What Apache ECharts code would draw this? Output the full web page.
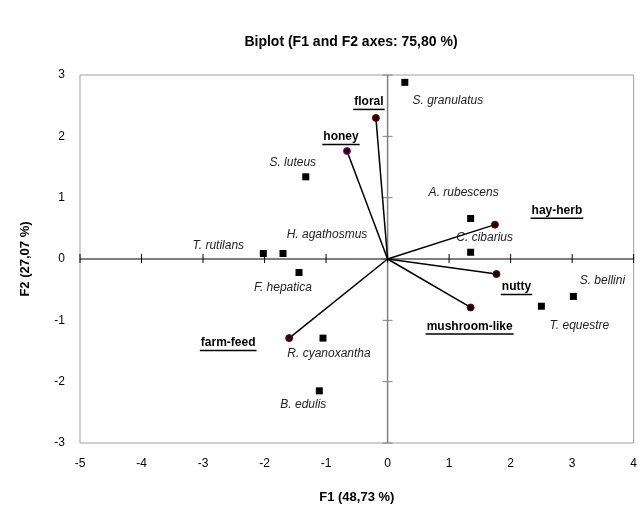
<!DOCTYPE html>
<html lang="en">
<head>
<meta charset="UTF-8" />
<script src="https://cdn.jsdelivr.net/npm/echarts@6/dist/echarts.min.js"></script>
<style>
html,body{margin:0;padding:0;background:#fff;}
#main{width:640px;height:522px;}
</style>
</head>
<body>
<div id="main"></div>
<script type="text/javascript">
// observations (mushroom species)
var obsNames = ['S. granulatus','S. luteus','T. rutilans','H. agathosmus','A. rubescens','C. cibarius','F. hepatica','R. cyanoxantha','B. edulis','T. equestre','S. bellini'];
var obsF1 = [0.28,-1.33,-2.02,-1.70,1.35,1.35,-1.44,-1.05,-1.11,2.50,3.02];
var obsF2 = [2.88,1.34,0.09,0.09,0.66,0.11,-0.22,-1.29,-2.15,-0.77,-0.61];

// variables (odour descriptors)
var varNames = ['floral','honey','hay-herb','farm-feed','nutty','mushroom-like'];
var varF1 = [-0.19,-0.66,1.745,-1.60,1.77,1.35];
var varF2 = [2.30,1.76,0.56,-1.29,-0.245,-0.79];

var xTicks = [-5,-4,-3,-2,-1,0,1,2,3,4];
var yTicks = [-3,-2,-1,0,1,2,3];

// label offsets (px) from the marker, centre of the text
var obsLabelOff = [[43,18],[-13,-14],[-45,-8],[44,-19],[-7,-26],[14,-15],[-16,15],[6,16],[-16,14],[38,19],[29,-16]];
var varLabelOff = [[-7,-16],[-6,-14],[62,-14],[-61,5],[20,13],[-1,19]];
var varStroke = ['#7a0000','#a000a0','#7a0000','#7a0000','#7a0000','#7a0000'];

var FONT = '"Liberation Sans", Arial, sans-serif';
var varFont = 'bold 12px ' + FONT;
var mctx = document.createElement('canvas').getContext('2d');
function textW(t){ mctx.font = varFont; return mctx.measureText(t).width; }

var obsData = [];
for(var i=0;i<obsNames.length;i++){
	obsData.push({
		name: obsNames[i],
		value: [obsF1[i], obsF2[i]],
		label: {offset: obsLabelOff[i]}
	});
}
var varData = [];
for(var i=0;i<varNames.length;i++){
	varData.push([varF1[i], varF2[i]]);
}

var myChart = echarts.init(document.getElementById('main'));
var option = {
	backgroundColor: '#fff',
	animation: false,
	title: {
		text: 'Biplot (F1 and F2 axes: 75,80 %)',
		left: 346,
		top: 30,
		textAlign: 'center',
		textStyle: {fontFamily: FONT, fontSize: 14, fontWeight: 'bold', color: '#000'}
	},
	grid: {
		left: 80, right: 6, top: 75, bottom: 79,
		show: true, borderColor: '#a0a0a0', borderWidth: 1
	},
	xAxis: {
		type: 'value', min: -5, max: 4, interval: 1,
		axisLine: {show: false}, axisTick: {show: false}, splitLine: {show: false},
		axisLabel: {color: '#000', fontFamily: FONT, fontSize: 12, margin: 15},
		name: 'F1 (48,73 %)', nameLocation: 'middle', nameGap: 48,
		nameTextStyle: {fontFamily: FONT, fontSize: 13, fontWeight: 'bold', color: '#000'}
	},
	yAxis: {
		type: 'value', min: -3, max: 3, interval: 1,
		axisLine: {show: false}, axisTick: {show: false}, splitLine: {show: false},
		axisLabel: {color: '#000', fontFamily: FONT, fontSize: 12, margin: 15},
		name: 'F2 (27,07 %)', nameLocation: 'middle', nameGap: 48,
		nameTextStyle: {fontFamily: FONT, fontSize: 13, fontWeight: 'bold', color: '#000'}
	},
	series: [
		{
			// axes through the origin, with crossing ticks
			type: 'custom', z: 1, silent: true, clip: false,
			data: [[0,0]],
			renderItem: function(params, api){
				var ch = [];
				var a = api.coord([xTicks[0],0]), b = api.coord([xTicks[xTicks.length-1],0]);
				var c = api.coord([0,yTicks[0]]), d = api.coord([0,yTicks[yTicks.length-1]]);
				ch.push({type:'line', shape:{x1:c[0],y1:c[1],x2:d[0],y2:d[1]}, style:{stroke:'#808080', lineWidth:1.5}});
				for(var k=0;k<yTicks.length;k++){
					var p = api.coord([0,yTicks[k]]);
					ch.push({type:'line', shape:{x1:p[0]-5,y1:p[1],x2:p[0]+5,y2:p[1]}, style:{stroke:'#808080', lineWidth:1}});
				}
				ch.push({type:'line', shape:{x1:a[0],y1:a[1],x2:b[0],y2:b[1]}, style:{stroke:'#000', lineWidth:1}});
				for(var k=0;k<xTicks.length;k++){
					var q = api.coord([xTicks[k],0]);
					ch.push({type:'line', shape:{x1:q[0],y1:q[1]-5,x2:q[0],y2:q[1]+4}, style:{stroke:'#000', lineWidth:1}});
				}
				return {type:'group', children: ch};
			}
		},
		{
			type: 'scatter', z: 3,
			symbol: 'rect', symbolSize: 7,
			itemStyle: {color: '#000', opacity: 1},
			data: obsData,
			label: {
				show: true, position: 'inside', formatter: '{b}',
				fontFamily: FONT, fontSize: 12, fontStyle: 'italic', color: '#222',
				align: 'center', verticalAlign: 'middle'
			}
		},
		{
			// variable vectors
			type: 'custom', z: 2, silent: true, clip: false,
			data: varData,
			renderItem: function(params, api){
				var i = params.dataIndex;
				var o = api.coord([0,0]);
				var p = api.coord([api.value(0), api.value(1)]);
				var tx = p[0] + varLabelOff[i][0], ty = p[1] + varLabelOff[i][1];
				var w = textW(varNames[i]);
				return {type:'group', children:[
					{type:'line', shape:{x1:o[0],y1:o[1],x2:p[0],y2:p[1]}, style:{stroke:'#000', lineWidth:1.5}},
					{type:'circle', shape:{cx:p[0],cy:p[1],r:3.5}, style:{fill:'#1a0505', stroke:varStroke[i], lineWidth:1}},
					{type:'text', style:{text:varNames[i], x:tx, y:ty, align:'center', verticalAlign:'middle', font:varFont, fill:'#000'}},
					{type:'line', shape:{x1:tx-w/2-1,y1:ty+7.5,x2:tx+w/2+1,y2:ty+7.5}, style:{stroke:'#000', lineWidth:1.5}}
				]};
			}
		}
	]
};
myChart.setOption(option);
</script>
</body>
</html>
